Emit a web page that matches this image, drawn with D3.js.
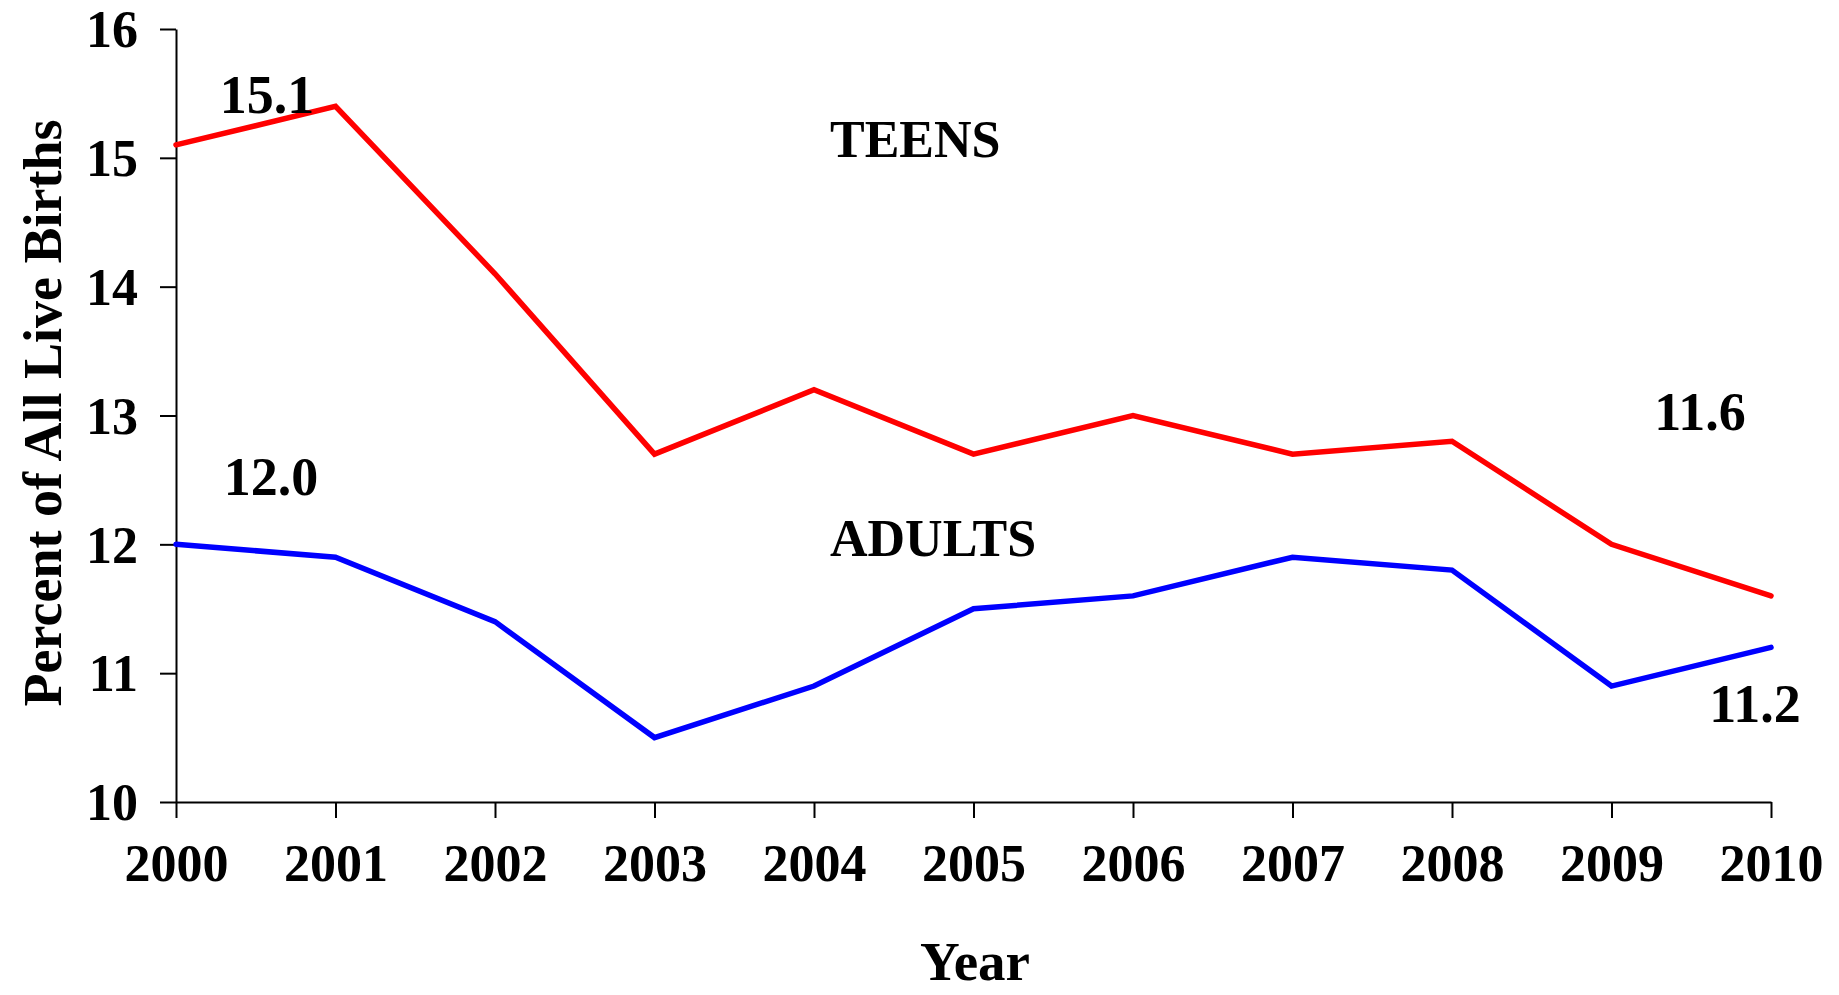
<!DOCTYPE html>
<html>
<head>
<meta charset="utf-8">
<script src="https://cdn.jsdelivr.net/npm/d3@7"></script>
<style>
  html, body { margin: 0; padding: 0; background: #fff; }
  svg { display: block; }
  text { font-family: "Liberation Serif", "Times New Roman", serif; font-weight: bold; fill: #000; }
</style>
</head>
<body>
<svg id="chart" width="1839" height="995"></svg>
<script>
// ---- data ----
const years = [2000, 2001, 2002, 2003, 2004, 2005, 2006, 2007, 2008, 2009, 2010];
const teens = [15.1, 15.4, 14.1, 12.7, 13.2, 12.7, 13.0, 12.7, 12.8, 12.0, 11.6];
const adults = [12.0, 11.9, 11.4, 10.5, 10.9, 11.5, 11.6, 11.9, 11.8, 10.9, 11.2];
const yTicks = [10, 11, 12, 13, 14, 15, 16];
const seriesNames = ["TEENS", "ADULTS"];
const yTitle = "Percent of All Live Births";
const xTitle = "Year";

// ---- layout ----
const svg = d3.select("#chart");
const x = d3.scaleLinear().domain([2000, 2010]).range([176, 1771]);
const y = d3.scaleLinear().domain([10, 16]).range([802, 29]);

// axes
const yAxis = d3.axisLeft(y).tickValues(yTicks).tickSize(16).tickSizeOuter(0).tickPadding(22).tickFormat(d3.format("d"));
const xAxis = d3.axisBottom(x).tickValues(years).tickSize(16).tickSizeOuter(0).tickPadding(26).tickFormat(d3.format("d"));

const gy = svg.append("g").attr("transform", `translate(${x(2000)},0)`).call(yAxis);
const gx = svg.append("g").attr("transform", `translate(0,${y(10)})`).call(xAxis);
[gy, gx].forEach(g => {
  g.selectAll("path, line").attr("stroke", "#000").attr("stroke-width", 2);
  g.selectAll("text").style("font-family", '"Liberation Serif", "Times New Roman", serif')
    .style("font-weight", "bold").style("font-size", "52px").attr("fill", "#000");
});
gy.selectAll("text").attr("dy", "0.34em");
gx.selectAll("text").attr("dy", "0.71em");

// lines
const line = d3.line().x((d, i) => x(years[i])).y(d => y(d));
svg.append("path").datum(teens).attr("d", line)
  .attr("fill", "none").attr("stroke", "#ff0000").attr("stroke-width", 5.5)
  .attr("stroke-linecap", "round").attr("stroke-linejoin", "miter");
svg.append("path").datum(adults).attr("d", line)
  .attr("fill", "none").attr("stroke", "#0000ff").attr("stroke-width", 5.5)
  .attr("stroke-linecap", "round").attr("stroke-linejoin", "miter");

// value labels
const fmt = d3.format(".1f");
const lbl = (txt, cx, by) => svg.append("text").attr("x", cx).attr("y", by)
  .attr("text-anchor", "middle").style("font-size", "54px").text(txt);
lbl(fmt(teens[0]), x(2000) + 91, y(teens[0]) - 32);
lbl(fmt(adults[0]), x(2000) + 95, y(adults[0]) - 49);
lbl(fmt(teens[10]), x(2010) - 71, y(teens[10]) - 166);
lbl(fmt(adults[10]), x(2010) - 16, y(adults[10]) + 75);

// series names
svg.append("text").attr("x", 830).attr("y", 157).style("font-size", "52px").text(seriesNames[0]);
svg.append("text").attr("x", 830).attr("y", 556).style("font-size", "52px").text(seriesNames[1]);

// axis titles
svg.append("text").attr("x", 975).attr("y", 980).attr("text-anchor", "middle")
  .style("font-size", "55px").text(xTitle);
svg.append("text").attr("transform", "translate(61,413) rotate(-90)")
  .attr("text-anchor", "middle").style("font-size", "54px").text(yTitle);
</script>
</body>
</html>
